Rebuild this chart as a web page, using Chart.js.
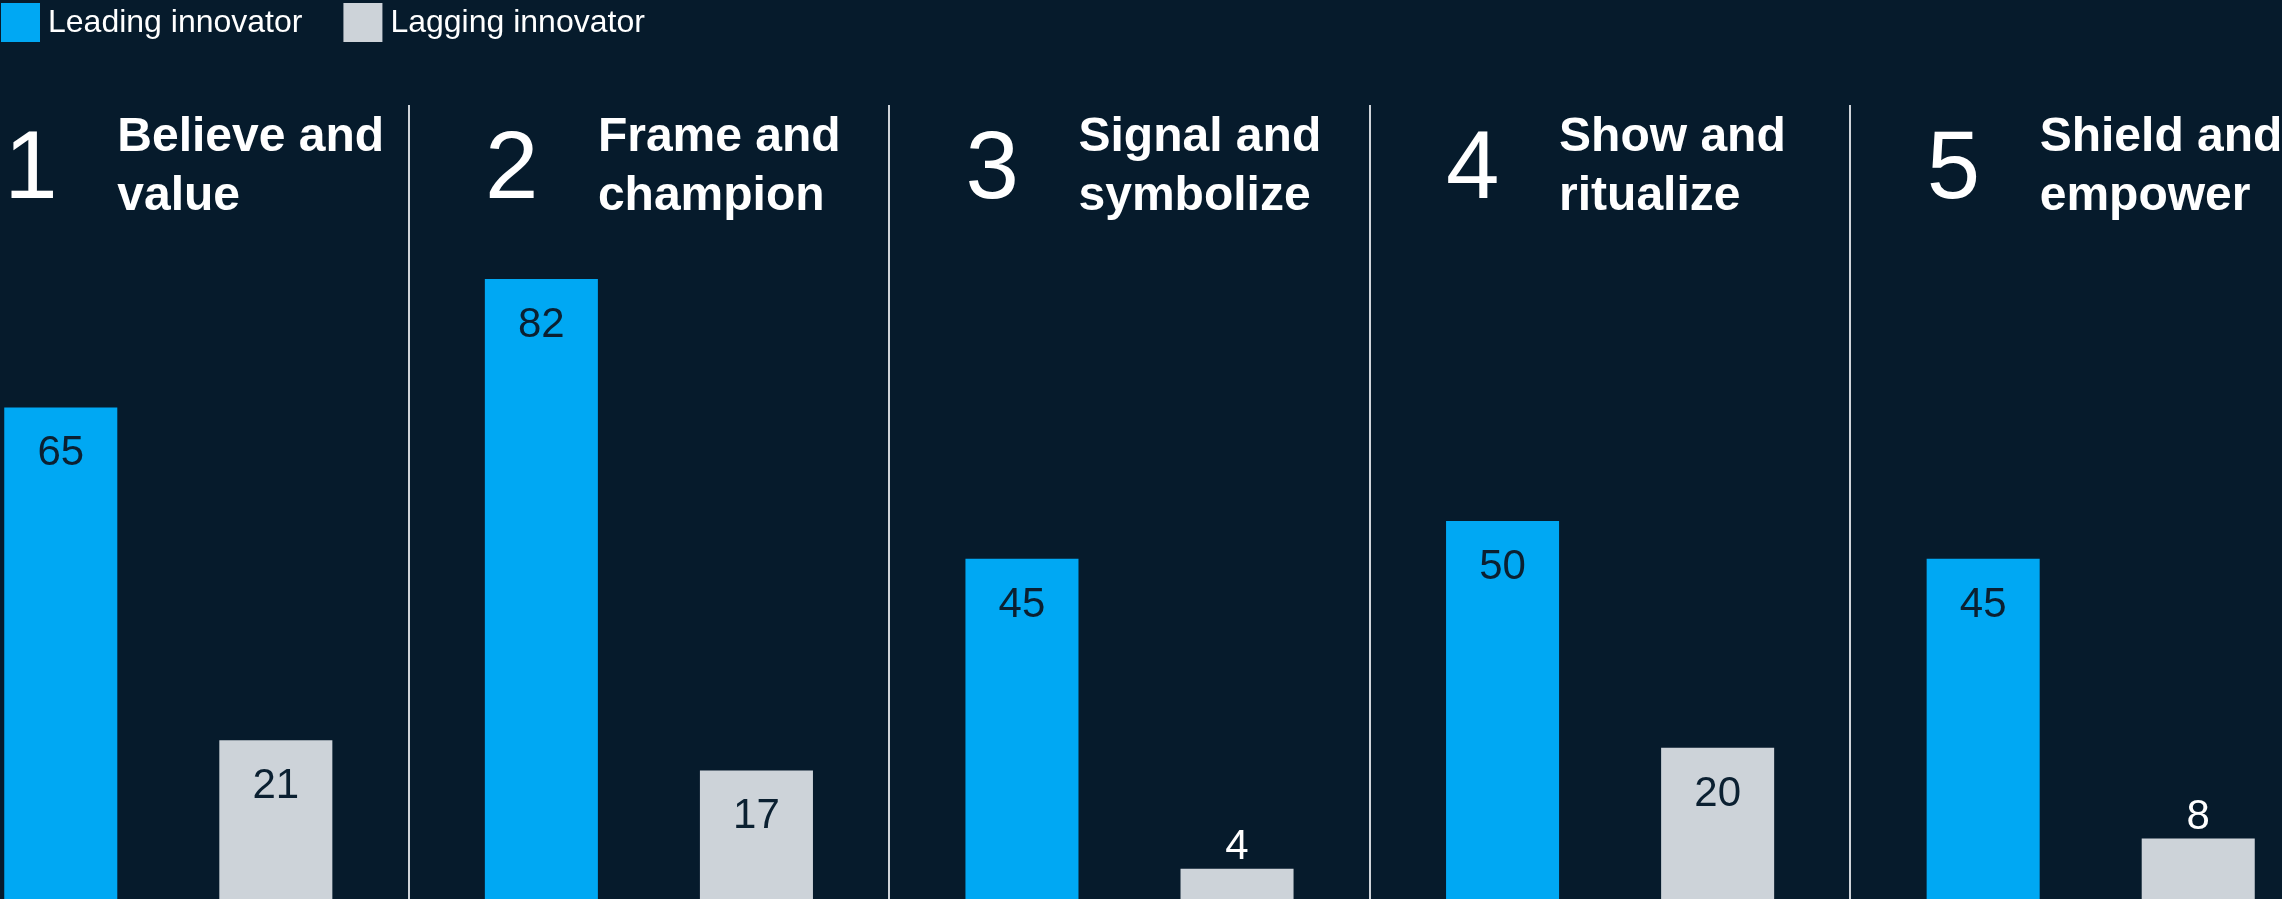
<!DOCTYPE html>
<html>
<head>
<meta charset="utf-8">
<title>Leading vs lagging innovators</title>
<script src="https://cdn.jsdelivr.net/npm/chart.js@4.4.1/dist/chart.umd.min.js"></script>
<style>
  html, body { margin: 0; padding: 0; background: #061b2c; }
  #wrap { position: relative; width: 2282px; height: 899px; overflow: hidden; }
  #chart { position: absolute; left: -72px; top: 0; }
</style>
</head>
<body>
<div id="wrap"><canvas id="chart" width="2403" height="899"></canvas></div>
<script>
const stepNumbers = ['1', '2', '3', '4', '5'];
const categories = [
    ['Believe and', 'value'],
    ['Frame and', 'champion'],
    ['Signal and', 'symbolize'],
    ['Show and', 'ritualize'],
    ['Shield and', 'empower']
];
const leadingValues = [65, 82, 45, 50, 45];
const laggingValues = [21, 17, 4, 20, 8];
const seriesNames = ['Leading innovator', 'Lagging innovator'];

const BLUE = '#00a8f3';
const GREY = '#cdd3d9';
const SHIFT = 72; // canvas starts this far left of the page, first panel is cut off
const FONT = '"Liberation Sans", Arial, sans-serif';

// titles, value labels and legend drawn on top of the bars
const overlay = {
    id: 'overlay',
    afterDatasetsDraw(chart) {
        const ctx = chart.ctx;
        const xs = chart.scales.x;
        ctx.save();
        ctx.textBaseline = 'alphabetic';
        ctx.textAlign = 'left';
        ctx.fillStyle = '#ffffff';

        categories.forEach(function(lines, i) {
            var cx = xs.getPixelForValue(i);
            ctx.font = '96px ' + FONT;
            ctx.fillText(stepNumbers[i], cx - 164, 198);
            ctx.font = 'bold 48px ' + FONT;
            lines.forEach(function(t, j) {
                ctx.fillText(t, cx - 51, 151 + j * 59);
            });
        });

        ctx.font = '42px ' + FONT;
        ctx.textAlign = 'center';
        chart.data.datasets.forEach(function(ds, di) {
            chart.getDatasetMeta(di).data.forEach(function(bar, i) {
                var h = bar.base - bar.y;
                if (h > 80) {
                    ctx.fillStyle = '#0b2031';
                    ctx.fillText(ds.data[i], bar.x, bar.y + 58);
                } else {
                    ctx.fillStyle = '#ffffff';
                    ctx.fillText(ds.data[i], bar.x, bar.y - 10);
                }
            });
        });

        // legend
        ctx.font = '32px ' + FONT;
        ctx.textAlign = 'left';
        var lx = SHIFT + 1;
        chart.data.datasets.forEach(function(ds) {
            ctx.fillStyle = ds.backgroundColor;
            ctx.fillRect(lx, 3, 39, 39);
            ctx.fillStyle = '#ffffff';
            ctx.fillText(ds.label, lx + 47, 32);
            lx += 47 + ctx.measureText(ds.label).width + 41;
        });
        ctx.restore();
    }
};

new Chart(document.getElementById('chart'), {
    type: 'bar',
    data: {
        labels: categories,
        datasets: [
            { label: seriesNames[0], data: leadingValues, backgroundColor: BLUE },
            { label: seriesNames[1], data: laggingValues, backgroundColor: GREY }
        ]
    },
    options: {
        responsive: false,
        animation: false,
        datasets: {
            bar: { categoryPercentage: 0.895, barPercentage: 0.5256 }
        },
        layout: { padding: { top: 105, bottom: 0, left: 0, right: 0 } },
        plugins: {
            legend: { display: false },
            tooltip: { enabled: false }
        },
        scales: {
            x: {
                grid: { color: '#cfd4d9', lineWidth: 2, drawTicks: false },
                ticks: { display: false },
                border: { display: false }
            },
            y: { display: false, min: 0, max: 105 }
        }
    },
    plugins: [overlay]
});
</script>
</body>
</html>
